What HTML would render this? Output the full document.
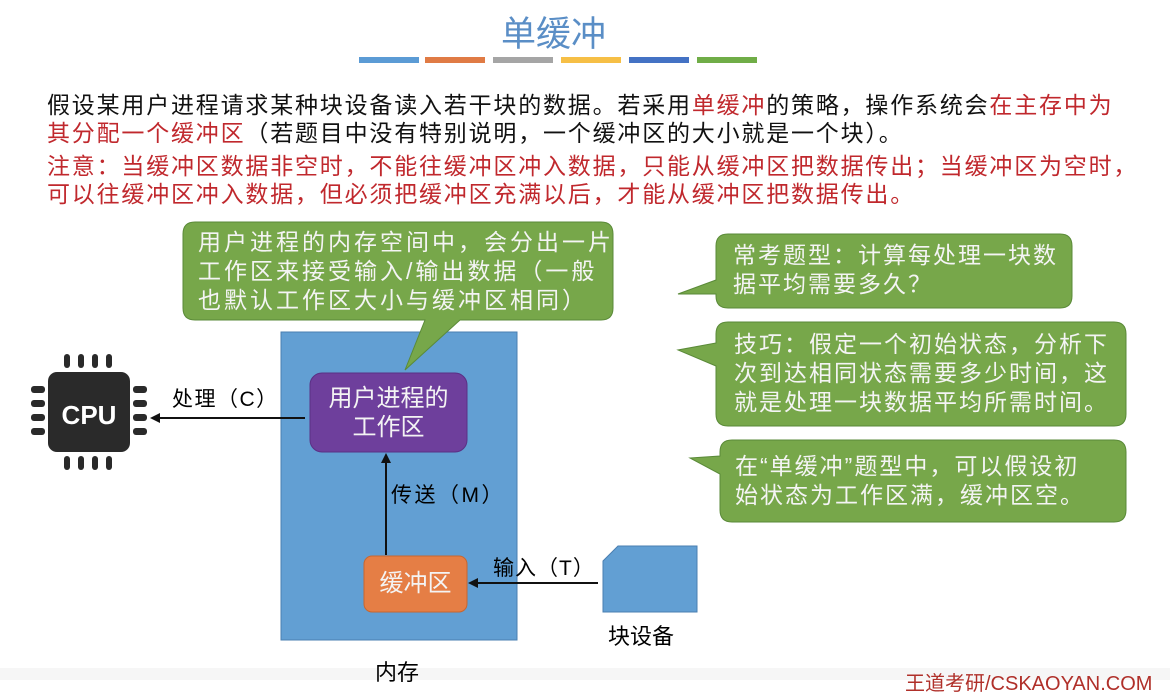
<!DOCTYPE html>
<html><head><meta charset="utf-8"><style>
html,body{margin:0;padding:0;background:#fff;}
body{width:1170px;height:680px;position:relative;overflow:hidden;font-family:"Liberation Sans","Noto Sans CJK SC",sans-serif;}
.t{position:absolute;white-space:nowrap;}
.p{font-size:23px;line-height:28px;color:#111;left:47px;letter-spacing:1.8px;}
.r{color:#c0282d;}
.w{color:#f4f4f4;font-size:23px;line-height:29px;letter-spacing:2px;}
</style></head><body>
<svg width="1170" height="680" style="position:absolute;left:0;top:0">
<g>
<rect x="359" y="57" width="60" height="6" fill="#5b9bd5"/>
<rect x="425" y="57" width="60" height="6" fill="#e07b45"/>
<rect x="493" y="57" width="60" height="6" fill="#a5a5a5"/>
<rect x="561" y="57" width="60" height="6" fill="#f6bf46"/>
<rect x="629" y="57" width="60" height="6" fill="#4472c4"/>
<rect x="697" y="57" width="60" height="6" fill="#70ad47"/>
</g>
<rect x="281" y="332" width="236" height="308" fill="#629fd3" stroke="#4a7fb0"/>
<path d="M195 222 H601 Q613 222 613 234 V308 Q613 320 601 320 H460 L405 370 L425 320 H195 Q183 320 183 308 V234 Q183 222 195 222 Z" fill="#77a74a" stroke="#5a8a38"/>
<rect x="310" y="373" width="157" height="79" rx="12" fill="#6e3f9c" stroke="#5a3085"/>
<rect x="364" y="556" width="103" height="56" rx="8" fill="#e57e45" stroke="#c8662f"/>
<g stroke="#111" stroke-width="2" fill="#111">
<line x1="386" y1="555" x2="386" y2="462"/><path d="M381 463 L386 453 L391 463 Z" stroke="none"/>
<line x1="305" y1="418" x2="160" y2="418"/><path d="M160 413 L150 418 L160 423 Z" stroke="none"/>
<line x1="598" y1="583" x2="478" y2="583"/><path d="M478 578 L468 583 L478 588 Z" stroke="none"/>
</g>
<path d="M618 546 H697 V612 H603 V561 Z" fill="#629fd3" stroke="#4a7fb0"/>
<g fill="#2a2a2a">
<rect x="48" y="372" width="82" height="80" rx="9"/>
<rect x="64" y="354" width="6" height="14" rx="3"/><rect x="78" y="354" width="6" height="14" rx="3"/><rect x="92" y="354" width="6" height="14" rx="3"/><rect x="106" y="354" width="6" height="14" rx="3"/>
<rect x="64" y="456" width="6" height="14" rx="3"/><rect x="78" y="456" width="6" height="14" rx="3"/><rect x="92" y="456" width="6" height="14" rx="3"/><rect x="106" y="456" width="6" height="14" rx="3"/>
<rect x="31" y="386" width="14" height="7" rx="3"/><rect x="31" y="400" width="14" height="7" rx="3"/><rect x="31" y="414" width="14" height="7" rx="3"/><rect x="31" y="428" width="14" height="7" rx="3"/>
<rect x="133" y="386" width="14" height="7" rx="3"/><rect x="133" y="400" width="14" height="7" rx="3"/><rect x="133" y="414" width="14" height="7" rx="3"/><rect x="133" y="428" width="14" height="7" rx="3"/>
</g>
<text x="89" y="424" font-family="Liberation Sans" font-weight="bold" font-size="26" fill="#fff" text-anchor="middle">CPU</text>
<path d="M728 234 H1060 Q1072 234 1072 246 V296 Q1072 308 1060 308 H728 Q716 308 716 296 V294 L678 294 L716 280 V246 Q716 234 728 234 Z" fill="#77a74a" stroke="#5a8a38"/>
<path d="M728 322 H1114 Q1126 322 1126 334 V414 Q1126 426 1114 426 H728 Q716 426 716 414 V366 L678 350 L716 343 V334 Q716 322 728 322 Z" fill="#77a74a" stroke="#5a8a38"/>
<path d="M732 440 H1114 Q1126 440 1126 452 V510 Q1126 522 1114 522 H732 Q720 522 720 510 V474 L690 458 L720 456 V452 Q720 440 732 440 Z" fill="#77a74a" stroke="#5a8a38"/>
<rect x="0" y="668" width="1170" height="12" fill="#f6f6f6"/>
</svg>
<div class="t" style="left:0;width:1107px;text-align:center;top:6px;font-size:35px;color:#5a8ec6;">单缓冲</div>
<div class="t p" style="top:91px;">假设某用户进程请求某种块设备读入若干块的数据。若采用<span class="r">单缓冲</span>的策略，操作系统会<span class="r">在主存中为</span></div>
<div class="t p" style="top:119px;"><span class="r">其分配一个缓冲区</span>（若题目中没有特别说明，一个缓冲区的大小就是一个块）。</div>
<div class="t p r" style="top:152px;">注意：当缓冲区数据非空时，不能往缓冲区冲入数据，只能从缓冲区把数据传出；当缓冲区为空时，</div>
<div class="t p r" style="top:180px;">可以往缓冲区冲入数据，但必须把缓冲区充满以后，才能从缓冲区把数据传出。</div>
<div class="t w" style="left:198px;top:228px;letter-spacing:3px;">用户进程的内存空间中，会分出一片<br>工作区来接受输入/输出数据（一般<br>也默认工作区大小与缓冲区相同）</div>
<div class="t w" style="left:310px;width:157px;text-align:center;top:384px;font-size:24px;letter-spacing:0;">用户进程的<br>工作区</div>
<div class="t w" style="left:364px;width:103px;text-align:center;top:569px;font-size:24px;letter-spacing:0;">缓冲区</div>
<div class="t" style="left:172px;top:383px;font-size:21px;letter-spacing:1.5px;">处理（C）</div>
<div class="t" style="left:391px;top:479px;font-size:21px;letter-spacing:2.5px;">传送（M）</div>
<div class="t" style="left:493px;top:552px;font-size:21px;letter-spacing:1px;">输入（T）</div>
<div class="t" style="left:608px;top:619px;font-size:22px;">块设备</div>
<div class="t" style="left:375px;top:655px;font-size:22px;">内存</div>
<div class="t w" style="left:733px;top:241px;">常考题型：计算每处理一块数<br>据平均需要多久？</div>
<div class="t w" style="left:734px;top:330px;">技巧：假定一个初始状态，分析下<br>次到达相同状态需要多少时间，这<br>就是处理一块数据平均所需时间。</div>
<div class="t w" style="left:735px;top:452px;">在“单缓冲”题型中，可以假设初<br>始状态为工作区满，缓冲区空。</div>
<div class="t" style="left:905px;top:667px;font-size:20px;color:#b0302a;">王道考研/CSKAOYAN.COM</div>
</body></html>
